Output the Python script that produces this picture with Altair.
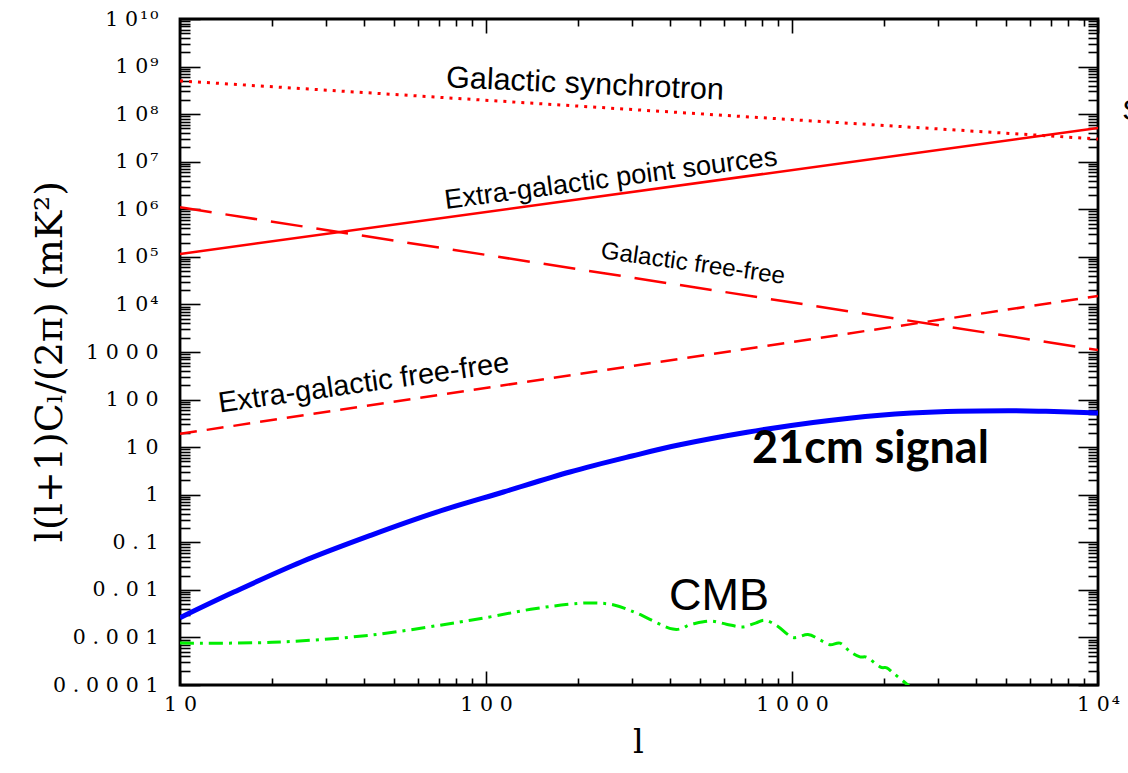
import altair as alt
import pandas as pd

# Angular power l(l+1)C_l/(2π) in mK² for each foreground and signal component
SYNC_L = [10, 10000]
SYNC_V = [5.0e8, 3.0e7]

PS_L = [10, 10000]
PS_V = [1.15e5, 5.1e7]

GFF_L = [10, 10000]
GFF_V = [1.1e6, 1.1e3]

EGFF_L = [10, 10000]
EGFF_V = [19, 1.5e4]

SIG_L = [10, 15, 25, 42, 69, 114, 188, 300, 430, 713, 1172, 1940, 3206, 5275, 6760, 10000]
SIG_V = [0.0026, 0.009, 0.039, 0.14, 0.43, 1.14, 3.0, 6.5, 11.2, 20.5, 33, 47, 56, 58, 56.5, 52]

CMB_L = [10, 20, 42, 89, 140, 188, 224, 262, 312, 408, 470, 540, 610, 687, 760, 817,
         900, 1007, 1127, 1230, 1330, 1435, 1550, 1668, 1760, 1940, 2040, 2140, 2390, 2600]
CMB_V = [7.6e-4, 7.9e-4, 1.12e-3, 2.3e-3, 3.9e-3, 5.0e-3, 5.3e-3, 4.8e-3, 3.2e-3, 1.5e-3,
         1.9e-3, 2.2e-3, 1.9e-3, 1.66e-3, 2.0e-3, 2.3e-3, 1.7e-3, 1.0e-3, 1.15e-3, 9.0e-4,
         7.0e-4, 7.6e-4, 5.0e-4, 3.9e-4, 3.8e-4, 2.4e-4, 2.3e-4, 1.8e-4, 1.0e-4, 6.0e-5]

# Curve annotations
NOTE_TEXT = ["Galactic synchrotron", "Extra-galactic point sources",
             "Galactic free-free", "Extra-galactic free-free"]
NOTE_L = [210, 258, 471, 40.2]
NOTE_V = [2.72e8, 2.94e6, 5.05e4, 144]
NOTE_ANGLE = [2.6, 352.5, 8, 352]
NOTE_SIZE = [30.5, 27.3, 24.2, 29]

# Axis ticks and labels
X_TICKS = [10, 100, 1000, 10000]
X_LABELS = ["10", "100", "1000", "10⁴"]
Y_TICKS = [1e-4, 1e-3, 1e-2, 1e-1, 1, 10, 100, 1000, 1e4, 1e5, 1e6, 1e7, 1e8, 1e9, 1e10]
Y_LABELS = ["0.0001", "0.001", "0.01", "0.1", "1", "10", "100", "1000",
            "10⁴", "10⁵", "10⁶", "10⁷", "10⁸", "10⁹", "10¹⁰"]
MINOR_STEPS = [2, 3, 4, 5, 6, 7, 8, 9]

W, H = 918, 666
SUPERSCRIPTS = "⁰¹²³⁴⁵⁶⁷⁸⁹"
TICK_FONT = "DejaVu Serif"
TICK_SIZE = 20.5


def spaced(text):
    out = ""
    for i, ch in enumerate(text):
        if i > 0:
            out += "\u200a" if ch in SUPERSCRIPTS else "\u2004"
        out += ch
    return out


def label_expr(values, labels):
    expr = f"'{spaced(labels[-1])}'"
    for v, lab in reversed(list(zip(values[:-1], labels[:-1]))):
        expr = f"datum.value < {v * 3.1623:g} ? '{spaced(lab)}' : {expr}"
    return expr


def minor(majors):
    return [m * s for m in majors[:-1] for s in MINOR_STEPS]


X_SCALE = alt.Scale(type="log", domain=[10, 10000], nice=False)
Y_SCALE = alt.Scale(type="log", domain=[1e-4, 1e10], nice=False)

ref = pd.DataFrame({"l": SYNC_L, "v": SYNC_V})


def axis_layer(channel, axis):
    base = alt.Chart(ref).mark_point(opacity=0)
    if channel == "x":
        return base.encode(
            x=alt.X("l:Q", scale=X_SCALE, axis=axis),
            y=alt.Y("v:Q", scale=Y_SCALE, axis=None),
        )
    return base.encode(
        x=alt.X("l:Q", scale=X_SCALE, axis=None),
        y=alt.Y("v:Q", scale=Y_SCALE, axis=axis),
    )


def tick_axis(orient, offset, values, size):
    return alt.Axis(orient=orient, offset=offset, values=values, tickSize=size,
                    labels=False, domain=False, grid=False, ticks=True,
                    tickColor="black", tickWidth=1.6, title=None)


layers = []

# labelled axes
layers.append(axis_layer("x", alt.Axis(
    orient="bottom", values=X_TICKS, labelExpr=label_expr(X_TICKS, X_LABELS),
    ticks=False, domain=False, grid=False, labelFlush=False, labelOverlap=False,
    labelFont=TICK_FONT, labelFontSize=TICK_SIZE, labelColor="black", labelPadding=9,
    title="l", titleFont=TICK_FONT, titleFontSize=34, titleFontWeight="normal",
    titleColor="black", titleBaseline="alphabetic", titleX=458, titleY=67)))

layers.append(axis_layer("y", alt.Axis(
    orient="left", values=Y_TICKS, labelExpr=label_expr(Y_TICKS, Y_LABELS),
    ticks=False, domain=False, grid=False, labelFlush=False, labelOverlap=False,
    labelFont=TICK_FONT, labelFontSize=TICK_SIZE, labelColor="black", labelPadding=22,
    title="l(l+1)Cₗ/(2π)  (mK²)", titleFont=TICK_FONT, titleFontSize=38,
    titleFontWeight="normal", titleColor="black", titleBaseline="alphabetic",
    titleAngle=270, titleAlign="center", titleX=-119, titleY=342)))

# inward ticks on all four sides
layers.append(axis_layer("x", tick_axis("top", -H, X_TICKS, 14)))
layers.append(axis_layer("x", tick_axis("top", -H, minor(X_TICKS), 7)))
layers.append(axis_layer("x", tick_axis("bottom", -H, X_TICKS, 14)))
layers.append(axis_layer("x", tick_axis("bottom", -H, minor(X_TICKS), 7)))
layers.append(axis_layer("y", tick_axis("right", -W, Y_TICKS, 20)))
layers.append(axis_layer("y", tick_axis("right", -W, minor(Y_TICKS), 10)))
layers.append(axis_layer("y", tick_axis("left", -W, Y_TICKS, 20)))
layers.append(axis_layer("y", tick_axis("left", -W, minor(Y_TICKS), 10)))


def curve(ls, vs, color, width, dash=None, interp="linear"):
    kw = dict(color=color, strokeWidth=width, clip=True, interpolate=interp,
              strokeCap="butt")
    if dash:
        kw["strokeDash"] = dash
    return alt.Chart(pd.DataFrame({"l": ls, "v": vs})).mark_line(**kw).encode(
        x=alt.X("l:Q", scale=X_SCALE, axis=None),
        y=alt.Y("v:Q", scale=Y_SCALE, axis=None),
    )


layers += [
    curve(SYNC_L, SYNC_V, "#ff0000", 3, [3, 6]),
    curve(PS_L, PS_V, "#ff0000", 2.5),
    curve(GFF_L, GFF_V, "#ff0000", 2.5, [32, 14]),
    curve(EGFF_L, EGFF_V, "#ff0000", 2.5, [17, 10]),
    curve(SIG_L, SIG_V, "#0000ff", 5, None, "cardinal"),
    curve(CMB_L, CMB_V, "#00ee00", 3, [14, 6, 3, 6], "cardinal"),
]


def note(text, l, v, size, angle=0, font="Liberation Sans", weight="normal",
         align="center"):
    return alt.Chart(pd.DataFrame({"l": [l], "v": [v], "t": [text]})).mark_text(
        font=font, fontSize=size, fontWeight=weight, angle=angle, align=align,
        baseline="alphabetic", color="black",
    ).encode(
        x=alt.X("l:Q", scale=X_SCALE, axis=None),
        y=alt.Y("v:Q", scale=Y_SCALE, axis=None),
        text="t:N",
    )


for t, l, v, a, s in zip(NOTE_TEXT, NOTE_L, NOTE_V, NOTE_ANGLE, NOTE_SIZE):
    layers.append(note(t, l, v, s, a))

layers.append(note("21cm signal", 740, 4.6, 45, font="Lato", weight="bold", align="left"))
layers.append(note("CMB", 577, 3.77e-3, 45))
layers.append(note("S", 12000, 7.5e7, 30, align="left"))

chart = alt.layer(*layers).resolve_axis(x="independent", y="independent").properties(
    width=W, height=H,
    padding={"left": 180, "top": 19, "right": 30, "bottom": 88},
    autosize=alt.AutoSizeParams(type="none"),
).configure_view(stroke="black", strokeWidth=2.8)

chart.save("out.html", embed_options={"renderer": "svg", "actions": False})
